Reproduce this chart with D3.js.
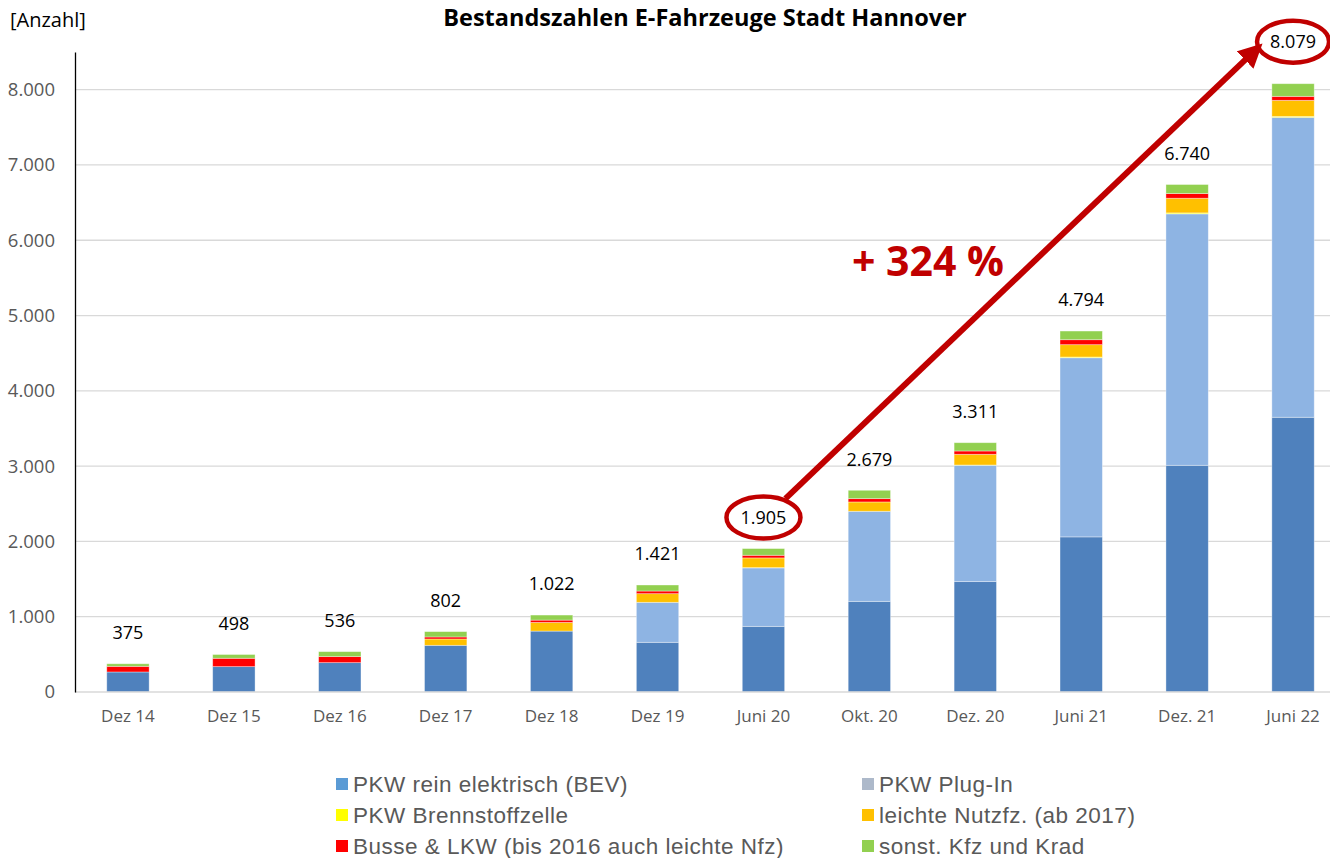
<!DOCTYPE html>
<html>
<head>
<meta charset="utf-8">
<script src="https://cdn.jsdelivr.net/npm/d3@7"></script>
<style>
  body { margin: 0; background: #fff; }
  svg { display: block; }
</style>
</head>
<body>
<svg id="chart" width="1330" height="858"></svg>
<script>
const categories = ["Dez 14", "Dez 15", "Dez 16", "Dez 17", "Dez 18", "Dez 19", "Juni 20", "Okt. 20", "Dez. 20", "Juni 21", "Dez. 21", "Juni 22"]
const bev             = [266, 337, 390, 620, 809, 660, 872, 1204, 1466, 2060, 3011, 3649]
const plugIn          = [0, 0, 0, 0, 0, 531, 776, 1196, 1546, 2379, 3339, 3983]
const fuelCell        = [0, 0, 0, 0, 0, 0, 4, 0, 3, 10, 13, 13]
const lightCommercial = [0, 0, 0, 84, 115, 115, 129, 124, 142, 164, 195, 213]
const busTruck        = [75, 111, 80, 27, 31, 35, 35, 44, 44, 66, 62, 53]
const otherVehicles   = [34, 50, 66, 71, 67, 80, 89, 111, 110, 115, 120, 168]
const totals          = [375, 498, 536, 802, 1022, 1421, 1905, 2679, 3311, 4794, 6740, 8079]
const yTicks = [0, 1000, 2000, 3000, 4000, 5000, 6000, 7000, 8000]

const seriesNames = ["PKW rein elektrisch (BEV)", "PKW Plug-In", "PKW Brennstoffzelle",
                     "leichte Nutzfz. (ab 2017)", "Busse & LKW (bis 2016 auch leichte Nfz)", "sonst. Kfz und Krad"]
const seriesKeys = ["bev", "plugIn", "fuelCell", "lightCommercial", "busTruck", "otherVehicles"]
const barColors = ["#4f81bd", "#8eb4e3", "#ffff00", "#ffc000", "#ff0000", "#92d050"]
const legendColors = ["#5b9bd5", "#adb9ca", "#ffff00", "#ffc000", "#ff0000", "#92d050"]

// table for the stack layout
let table = categories.map((c, i) => ({
    category: c,
    bev: bev[i], plugIn: plugIn[i], fuelCell: fuelCell[i],
    lightCommercial: lightCommercial[i], busTruck: busTruck[i], otherVehicles: otherVehicles[i]
}))

const de = d3.formatLocale({ decimal: ",", thousands: ".", grouping: [3], currency: ["", " €"] })
const fmt = de.format(",d")

const fontMain = "'Open Sans', Lato, sans-serif"
const darkRed = "#c00000"

let svg = d3.select('#chart')

let x = d3.scaleBand()
    .domain(categories)
    .range([75, 1346])
    .paddingInner(0.6)
    .paddingOuter(0.3)

let y = d3.scaleLinear()
    .domain([0, 8500])
    .range([692, 52])

// gridlines
svg.append('g')
    .selectAll('line')
    .data(yTicks.filter(t => t > 0))
    .enter()
    .append('line')
    .attr('x1', 75)
    .attr('x2', 1330)
    .attr('y1', d => y(d))
    .attr('y2', d => y(d))
    .attr('stroke', '#d9d9d9')
    .attr('stroke-width', 1.3)

// stacked bars
let stacked = d3.stack().keys(seriesKeys)(table)

svg.append('g')
    .selectAll('g')
    .data(stacked)
    .enter()
    .append('g')
    .attr('fill', (d, i) => barColors[i])
    .selectAll('rect')
    .data(d => d)
    .enter()
    .filter(d => d[1] - d[0] > 0)
    .append('rect')
    .attr('x', d => x(d.data.category))
    .attr('width', x.bandwidth())
    .attr('y', d => y(d[1]))
    .attr('height', d => y(d[0]) - y(d[1]))
    .attr('stroke', 'rgba(255,255,255,0.45)')
    .attr('stroke-width', 0.8)

// x axis baseline
svg.append('line')
    .attr('x1', 75).attr('x2', 1330)
    .attr('y1', y(0)).attr('y2', y(0))
    .attr('stroke', '#d9d9d9')
    .attr('stroke-width', 1.5)

// y axis
let yAxis = d3.axisLeft(y)
    .tickValues(yTicks)
    .tickFormat(d => fmt(d))
    .tickSize(0)
    .tickPadding(20)

let yG = svg.append('g')
    .attr('transform', 'translate(75,0)')
    .call(yAxis)
yG.select('.domain').attr('stroke', '#000').attr('stroke-width', 1.3)
yG.selectAll('text')
    .attr('font-family', fontMain)
    .attr('font-size', 18.5)
    .attr('fill', '#595959')

// x axis labels
let xAxis = d3.axisBottom(x).tickSize(0).tickPadding(18)
let xG = svg.append('g')
    .attr('transform', `translate(0,${y(0)})`)
    .call(xAxis)
xG.select('.domain').remove()
xG.selectAll('text')
    .attr('font-family', fontMain)
    .attr('font-size', 17)
    .attr('fill', '#595959')

// total labels
svg.append('g')
    .selectAll('text')
    .data(totals)
    .enter()
    .append('text')
    .attr('x', (d, i) => x(categories[i]) + x.bandwidth() / 2)
    .attr('y', (d, i) => y(d) - (i === totals.length - 1 ? 42 : 31))
    .attr('dy', '0.35em')
    .attr('text-anchor', 'middle')
    .attr('font-family', fontMain)
    .attr('font-size', 18)
    .attr('fill', '#000')
    .text(d => fmt(d))

// title and unit
svg.append('text')
    .attr('x', 705).attr('y', 26)
    .attr('text-anchor', 'middle')
    .attr('font-family', fontMain)
    .attr('font-weight', 'bold')
    .attr('font-size', 23.5)
    .text('Bestandszahlen E-Fahrzeuge Stadt Hannover')

svg.append('text')
    .attr('x', 10).attr('y', 27)
    .attr('font-family', fontMain)
    .attr('font-size', 20)
    .attr('fill', '#000')
    .text('[Anzahl]')

// annotation: circles + arrow
let iStart = categories.indexOf("Juni 20")
let iEnd = categories.length - 1
let cx0 = x(categories[iStart]) + x.bandwidth() / 2, cy0 = y(totals[iStart]) - 31
let cx1 = x(categories[iEnd]) + x.bandwidth() / 2, cy1 = y(totals[iEnd]) - 42

let defs = svg.append('defs')
defs.append('marker')
    .attr('id', 'head')
    .attr('viewBox', '0 0 10 10')
    .attr('refX', 8).attr('refY', 5)
    .attr('markerWidth', 4).attr('markerHeight', 4)
    .attr('orient', 'auto')
    .append('path')
    .attr('d', 'M0,0 L10,5 L0,10 z')
    .attr('fill', darkRed)

svg.append('line')
    .attr('x1', cx0 + 22).attr('y1', cy0 - 19)
    .attr('x2', cx1 - 34).attr('y2', cy1 + 5)
    .attr('stroke', darkRed)
    .attr('stroke-width', 6)
    .attr('marker-end', 'url(#head)')

svg.append('ellipse')
    .attr('cx', cx0).attr('cy', cy0)
    .attr('rx', 37).attr('ry', 21)
    .attr('fill', 'none')
    .attr('stroke', darkRed)
    .attr('stroke-width', 4.5)

svg.append('ellipse')
    .attr('cx', cx1).attr('cy', cy1)
    .attr('rx', 36).attr('ry', 21)
    .attr('fill', 'none')
    .attr('stroke', darkRed)
    .attr('stroke-width', 4.5)

svg.append('text')
    .attr('x', 928).attr('y', 276)
    .attr('text-anchor', 'middle')
    .attr('font-family', fontMain)
    .attr('font-weight', 'bold')
    .attr('font-size', 41)
    .attr('fill', darkRed)
    .text('+ 324 %')

// legend
let legend = svg.append('g')
    .selectAll('g')
    .data(seriesNames)
    .enter()
    .append('g')
    .attr('transform', (d, i) => `translate(${i % 2 === 0 ? 336 : 862},${784 + Math.floor(i / 2) * 31})`)

legend.append('rect')
    .attr('x', 0).attr('y', -6)
    .attr('width', 12).attr('height', 12)
    .attr('fill', (d, i) => legendColors[i])

legend.append('text')
    .attr('x', 17)
    .attr('dy', '0.36em')
    .attr('font-family', "'Liberation Sans', Arial, sans-serif")
    .attr('font-size', 22.5)
    .attr('letter-spacing', 0.5)
    .attr('fill', '#595959')
    .text(d => d)
</script>
</body>
</html>
